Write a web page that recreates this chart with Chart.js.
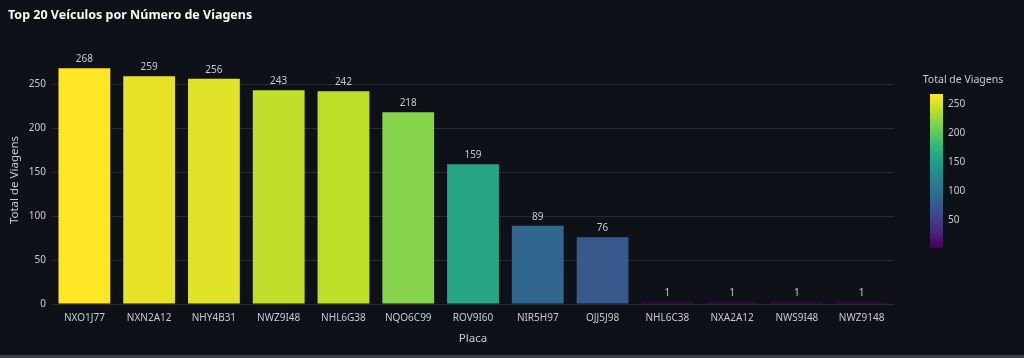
<!DOCTYPE html>
<html>
<head>
<meta charset="utf-8">
<script src="https://cdn.jsdelivr.net/npm/chart.js@4.4.1/dist/chart.umd.min.js"></script>
<style>
  html, body { margin: 0; padding: 0; background: #0e1117; }
  #wrap { width: 1024px; height: 355px; position: relative; border-bottom: 3px solid #3a3d45; }
</style>
</head>
<body>
<div id="wrap"><canvas id="chart"></canvas></div>
<script>
const placas = ['NXO1J77', 'NXN2A12', 'NHY4B31', 'NWZ9I48', 'NHL6G38', 'NQO6C99', 'ROV9I60',
                'NIR5H97', 'OJJ5J98', 'NHL6C38', 'NXA2A12', 'NWS9I48', 'NWZ9148'];
const viagens = [268, 259, 256, 243, 242, 218, 159, 89, 76, 1, 1, 1, 1];
const yTicks = [0, 50, 100, 150, 200, 250];
const colorbarTicks = [50, 100, 150, 200, 250];

const FONT = "'Noto Sans', 'Open Sans', sans-serif";
const TEXT = '#c6cad3';
const cmin = Math.min(...viagens);
const cmax = Math.max(...viagens);

// viridis
const viridis = ['#440154', '#482878', '#3e4989', '#31688e', '#26828e',
                 '#1f9e89', '#35b779', '#6ece58', '#b5de2b', '#fde725'];

function hexToRgb(h) {
    return [parseInt(h.slice(1, 3), 16), parseInt(h.slice(3, 5), 16), parseInt(h.slice(5, 7), 16)];
}

function viridisAt(t) {
    t = Math.max(0, Math.min(1, t));
    const pos = t * (viridis.length - 1);
    const i = Math.min(Math.floor(pos), viridis.length - 2);
    const f = pos - i;
    const a = hexToRgb(viridis[i]), b = hexToRgb(viridis[i + 1]);
    const c = a.map((v, k) => Math.round(v + (b[k] - v) * f));
    return `rgb(${c[0]}, ${c[1]}, ${c[2]})`;
}

const barColors = viagens.map(v => viridisAt((v - cmin) / (cmax - cmin)));

const extras = {
    id: 'extras',
    afterDatasetsDraw(chart) {
        const ctx = chart.ctx;
        const meta = chart.getDatasetMeta(0);
        ctx.save();
        // valores acima das barras
        ctx.font = `10px ${FONT}`;
        ctx.fillStyle = TEXT;
        ctx.textAlign = 'center';
        ctx.textBaseline = 'bottom';
        meta.data.forEach((bar, i) => {
            ctx.fillText(String(viagens[i]), bar.x, bar.y - 4);
        });
        ctx.restore();
    },
    afterDraw(chart) {
        const ctx = chart.ctx;
        ctx.save();
        // titulo
        ctx.font = `bold 12.5px ${FONT}`;
        ctx.fillStyle = '#fafafa';
        ctx.textAlign = 'left';
        ctx.textBaseline = 'middle';
        ctx.fillText('Top 20 Veículos por Número de Viagens', 8, 15);

        // colorbar
        const x0 = 930, w = 13, top = 94, bottom = 248;
        const grad = ctx.createLinearGradient(0, bottom, 0, top);
        viridis.forEach((c, i) => grad.addColorStop(i / (viridis.length - 1), c));
        ctx.fillStyle = grad;
        ctx.fillRect(x0, top, w, bottom - top);

        ctx.font = `10.5px ${FONT}`;
        ctx.fillStyle = TEXT;
        ctx.textAlign = 'center';
        ctx.fillText('Total de Viagens', 963, 80);

        ctx.font = `10px ${FONT}`;
        ctx.textAlign = 'left';
        colorbarTicks.forEach(t => {
            const y = bottom - (t - cmin) / (cmax - cmin) * (bottom - top);
            ctx.fillText(String(t), x0 + w + 5, y);
        });
        ctx.restore();
    }
};

new Chart(document.getElementById('chart'), {
    type: 'bar',
    data: {
        labels: placas,
        datasets: [{
            label: 'Total de Viagens',
            data: viagens,
            backgroundColor: barColors,
            borderWidth: 0,
            minBarLength: 2,
            barPercentage: 0.8,
            categoryPercentage: 1.0
        }]
    },
    options: {
        responsive: true,
        maintainAspectRatio: false,
        animation: false,
        layout: { padding: { left: 4, right: 130, top: 56, bottom: 6 } },
        plugins: {
            legend: { display: false },
            tooltip: { enabled: false }
        },
        scales: {
            x: {
                grid: { display: false, drawTicks: false },
                border: { display: false },
                ticks: { color: TEXT, font: { family: FONT, size: 10 }, padding: 8, maxRotation: 0 },
                title: { display: true, text: 'Placa', color: TEXT, font: { family: FONT, size: 11.5 }, padding: { top: 6, bottom: 3 } },
                afterFit(scale) { scale.height = 45; }
            },
            y: {
                min: 0,
                max: 282,
                afterBuildTicks(scale) { scale.ticks = yTicks.map(v => ({ value: v })); },
                grid: { color: '#262a33', lineWidth: 1, drawTicks: false },
                border: { display: false },
                ticks: { color: TEXT, font: { family: FONT, size: 10 }, padding: 6 },
                title: { display: true, text: 'Total de Viagens', color: TEXT, font: { family: FONT, size: 11.5 }, padding: { bottom: 8 } },
                afterFit(scale) { scale.width = 48; }
            }
        }
    },
    plugins: [extras]
});
</script>
</body>
</html>
